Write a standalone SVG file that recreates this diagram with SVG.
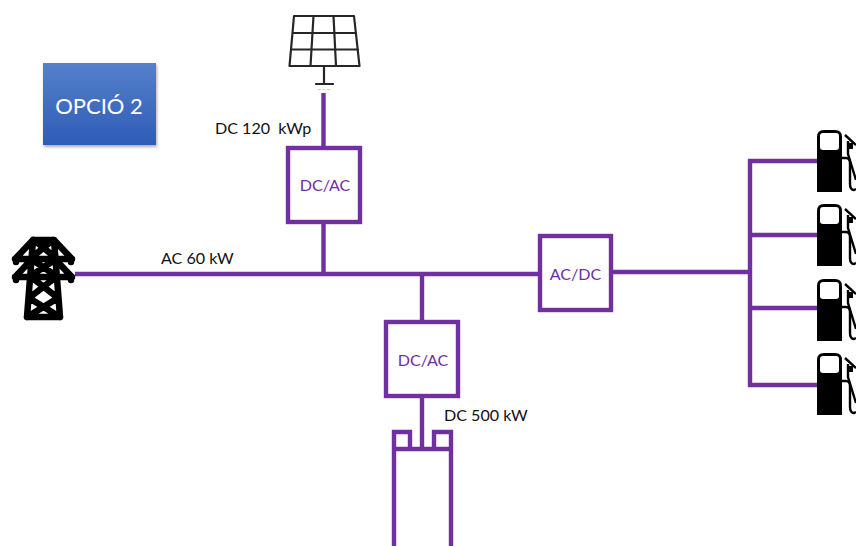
<svg xmlns="http://www.w3.org/2000/svg" width="856" height="546" viewBox="0 0 856 546">
<style>
.w{fill:none;stroke:#7030a0;stroke-width:4.4}
.b{fill:#fff;stroke:#7030a0;stroke-width:4.4}
.t{font-family:Lato,"Liberation Sans",sans-serif;font-size:16.100px;fill:#111;white-space:pre}
.p{font-family:Lato,"Liberation Sans",sans-serif;font-size:16.100px;fill:#7030a0;text-anchor:middle}
.k{fill:none;stroke:#262626;stroke-width:2.2;stroke-linejoin:round;stroke-linecap:round}
</style>
<defs>
<linearGradient id="g" x1="0" y1="0" x2="0" y2="1"><stop offset="0" stop-color="#5580cb"/><stop offset="1" stop-color="#2f5cb6"/></linearGradient>
<filter id="s" x="-10%" y="-10%" width="120%" height="120%"><feGaussianBlur stdDeviation="1.500"/></filter>
<g id="pump">
<path d="M0 62V7Q0 0 7 0H18Q25 0 25 7V62Z" fill="#000"/>
<rect x="3" y="3" width="19" height="17" rx="3" fill="#fff"/>
<path d="M25 28H29Q33 28 33 33V54Q33 60 37 60L39 59" fill="none" stroke="#000" stroke-width="2.400"/>
<path d="M28 5L39 15M31 11V24L39 50" fill="none" stroke="#000" stroke-width="2.400"/>
<path d="M32 13H36V19H32Z" fill="#000"/>
</g>
</defs>
<g id="connectors">
<path class="w" d="M75 274H540M611 272H750M323.500 93V275M422 273V448M750 159V387M748 161H817M750 235H817M750 308H817M748 385H817"/>
</g>
<g id="solar">
<path class="k" d="M294 16H354L359.500 66H289.500ZM292.500 33H356M291 49.500H358M313.500 16L310.500 66M333.500 16L336 66M324 66V84M316 84H333"/>
<path d="M318 89.500H331" stroke="#ccc" stroke-width="1" stroke-dasharray="3 1.500" fill="none"/>
</g>
<g id="tower">
<path d="M33 240H54L71 258V262M33 240L16 258V262M15 259H72M33 258L16 276V280M54 258L71 276V280M15 277H72M33 240L27 317M54 240L60 317M27 317H60M34 240L56 258M53 240L31 258M31 259L58 277M56 259L29 277M31 277L58 298M56 277L29 298M29 298L60 317M58 298L27 317" fill="none" stroke="#000" stroke-width="6.500" stroke-linejoin="round" stroke-linecap="round"/>
</g>
<g id="box-opcio">
<rect x="44" y="65" width="113" height="82" fill="#777" opacity=".6" filter="url(#s)"/>
<rect x="43" y="63" width="113" height="82" fill="url(#g)"/>
<text x="99" y="114" font-family="Lato,'Liberation Sans',sans-serif" font-size="22" fill="#fff" text-anchor="middle">OPCIÓ 2</text>
</g>
<g id="inverter-pv"><rect class="b" x="288" y="148" width="72" height="74"/><text class="p" x="325" y="191">DC/AC</text></g>
<g id="rectifier"><rect class="b" x="540" y="236" width="71" height="74"/><text class="p" x="575.500" y="280">AC/DC</text></g>
<g id="inverter-bat"><rect class="b" x="386" y="322" width="72" height="74"/><text class="p" x="423" y="366">DC/AC</text></g>
<g id="battery">
<path class="w" d="M394 546V432H410V449M394 449H451M434 449V432H451V546"/>
</g>
<g id="pump-1"><use href="#pump" x="817" y="130"/></g>
<g id="pump-2"><use href="#pump" x="817" y="204"/></g>
<g id="pump-3"><use href="#pump" x="817" y="279"/></g>
<g id="pump-4"><use href="#pump" x="817" y="353"/></g>
<g id="labels">
<text class="t" x="215" y="133.500">DC 120  kWp</text>
<text class="t" x="161" y="264">AC 60 kW</text>
<text class="t" x="444" y="421">DC 500 kW</text>
</g>
</svg>
